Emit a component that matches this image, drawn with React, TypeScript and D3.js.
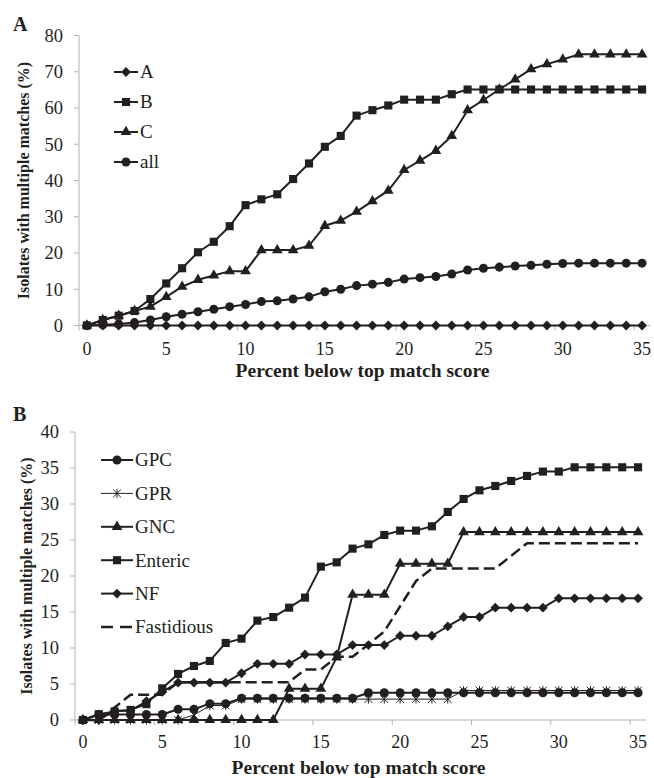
import React from "react";
import * as d3 from "d3";

// x categories: percent below top match score
const categories = [
  0, 1, 2, 3, 4, 5, 6, 7, 8, 9, 10, 11, 12, 13, 14, 15, 16, 17, 18, 19, 20, 21,
  22, 23, 24, 25, 26, 27, 28, 29, 30, 31, 32, 33, 34, 35,
];
const xTickLabels = [0, 5, 10, 15, 20, 25, 30, 35];
const yTicksA = [0, 10, 20, 30, 40, 50, 60, 70, 80];
const yTicksB = [0, 5, 10, 15, 20, 25, 30, 35, 40];

// panel A
const valuesA = [
  0, 0, 0, 0, 0, 0, 0, 0, 0, 0, 0, 0, 0, 0, 0, 0, 0, 0, 0, 0, 0, 0, 0, 0, 0, 0,
  0, 0, 0, 0, 0, 0, 0, 0, 0, 0,
];
const valuesB = [
  0, 1.5, 2.7, 4.0, 7.3, 11.6, 15.8, 20.2, 23.1, 27.4, 33.2, 34.8, 36.2, 40.4,
  44.7, 49.3, 52.3, 57.9, 59.4, 60.7, 62.3, 62.3, 62.3, 63.8, 65.1, 65.1, 65.1,
  65.1, 65.1, 65.1, 65.1, 65.1, 65.1, 65.1, 65.1, 65.1,
];
const valuesC = [
  0, 1.5, 2.7, 4.0, 5.2, 7.9, 10.7, 12.6, 13.8, 15.0, 15.0, 20.8, 20.8, 20.8,
  22.0, 27.5, 28.9, 31.4, 34.3, 37.2, 42.9, 45.5, 48.2, 52.3, 59.4, 62.2, 65.1,
  67.9, 70.7, 72.1, 73.4, 74.8, 74.8, 74.8, 74.8, 74.8,
];
const valuesAll = [
  0, 0.2, 0.4, 0.8, 1.5, 2.4, 3.1, 3.8, 4.5, 5.2, 5.8, 6.6, 6.8, 7.3, 7.9, 9.3,
  10.0, 11.0, 11.4, 11.9, 12.8, 13.2, 13.5, 14.2, 15.3, 15.8, 16.1, 16.4, 16.6,
  16.9, 17.1, 17.2, 17.2, 17.2, 17.2, 17.2,
];

// panel B
const valuesGPC = [
  0, 0.76, 0.76, 0.76, 0.76, 0.76, 1.5, 1.5, 2.27, 2.27, 3.03, 3.03, 3.03, 3.03,
  3.03, 3.03, 3.03, 3.03, 3.79, 3.79, 3.79, 3.79, 3.79, 3.79, 3.79, 3.79, 3.79,
  3.79, 3.79, 3.79, 3.79, 3.79, 3.79, 3.79, 3.79, 3.79,
];
const valuesGPR = [
  0, 0, 0, 0, 0, 0, 0, 0.7, 2.0, 2.0, 2.9, 2.9, 2.9, 2.9, 2.9, 2.9, 2.9, 2.9,
  2.9, 2.9, 2.9, 2.9, 2.9, 2.9, 4.1, 4.1, 4.1, 4.1, 4.1, 4.1, 4.1, 4.1, 4.1, 4.1,
  4.1, 4.1,
];
const valuesGNC = [
  0, 0, 0, 0, 0, 0, 0, 0, 0, 0, 0, 0, 0, 4.35, 4.35, 4.35, 8.7, 17.4, 17.4, 17.4,
  21.7, 21.7, 21.7, 21.7, 26.1, 26.1, 26.1, 26.1, 26.1, 26.1, 26.1, 26.1, 26.1,
  26.1, 26.1, 26.1,
];
const valuesEnteric = [
  0, 0.8, 1.2, 1.4, 2.2, 4.4, 6.4, 7.5, 8.2, 10.7, 11.3, 13.8, 14.3, 15.6, 17.0,
  21.3, 21.9, 23.8, 24.4, 25.7, 26.3, 26.3, 26.9, 28.9, 30.7, 31.9, 32.5, 33.2,
  33.9, 34.5, 34.5, 35.1, 35.1, 35.1, 35.1, 35.1,
];
const valuesNF = [
  0, 0, 1.3, 1.3, 2.6, 3.9, 5.2, 5.2, 5.2, 5.2, 6.5, 7.8, 7.8, 7.8, 9.1, 9.1, 9.1,
  10.4, 10.4, 10.4, 11.7, 11.7, 11.7, 13.0, 14.3, 14.3, 15.6, 15.6, 15.6, 15.6,
  16.9, 16.9, 16.9, 16.9, 16.9, 16.9,
];
const valuesFastidious = [
  0, 0, 1.75, 3.5, 3.5, 3.5, 5.26, 5.26, 5.26, 5.26, 5.26, 5.26, 5.26, 5.26, 7.0,
  7.0, 8.77, 8.77, 10.5, 12.3, 15.8, 19.3, 21.05, 21.05, 21.05, 21.05, 21.05,
  22.8, 24.56, 24.56, 24.56, 24.56, 24.56, 24.56, 24.56, 24.56,
];

const ink = "#231f20";
const axisGray = "#b3b3b3";
const font = "'Liberation Serif', 'Times New Roman', serif";

type Series = {
  name: string;
  values: number[];
  marker: string | null;
  width: number;
  dash?: string;
};

const seriesA: Series[] = [
  { name: "A", values: valuesA, marker: "diamond", width: 2 },
  { name: "B", values: valuesB, marker: "square", width: 2 },
  { name: "C", values: valuesC, marker: "triangle", width: 2 },
  { name: "all", values: valuesAll, marker: "circle", width: 2 },
];

const seriesB: Series[] = [
  { name: "GPC", values: valuesGPC, marker: "circle", width: 2 },
  { name: "GPR", values: valuesGPR, marker: "asterisk", width: 1 },
  { name: "GNC", values: valuesGNC, marker: "triangle", width: 2 },
  { name: "Enteric", values: valuesEnteric, marker: "square", width: 2 },
  { name: "NF", values: valuesNF, marker: "diamond", width: 2 },
  { name: "Fastidious", values: valuesFastidious, marker: null, width: 2.5, dash: "11,5" },
];

const symbolPaths: Record<string, string> = {
  diamond: d3.symbol().type(d3.symbolDiamond2).size(62)() as string,
  square: d3.symbol().type(d3.symbolSquare).size(66)() as string,
  triangle: d3.symbol().type(d3.symbolTriangle).size(50)() as string,
  circle: d3.symbol().type(d3.symbolCircle).size(64)() as string,
  asterisk: d3.symbol().type(d3.symbolTimes).size(40)() as string,
};

function Marker({ shape, x, y }: { shape: string; x: number; y: number }) {
  if (shape === "asterisk") {
    return (
      <g transform={`translate(${x},${y})`} stroke={ink} strokeWidth={1} fill="none">
        <path d={symbolPaths.asterisk} />
        <line x1={0} y1={-4.5} x2={0} y2={4.5} />
      </g>
    );
  }
  return <path d={symbolPaths[shape]} transform={`translate(${x},${y})`} fill={ink} />;
}

type PanelProps = {
  letter: string;
  letterY: number;
  left: number;
  right: number;
  top: number;
  bottom: number;
  yMax: number;
  yTicks: number[];
  series: Series[];
  legendX: number;
  legendY: number;
  legendStep: number;
  legendLine: number;
  yLabelX: number;
  yTitleX: number;
  xLabelY: number;
  xTitleY: number;
};

function Panel(p: PanelProps) {
  const x = d3.scaleBand<number>().domain(categories).range([p.left, p.right]);
  const cx = (c: number) => (x(c) as number) + x.bandwidth() / 2;
  const y = d3.scaleLinear().domain([0, p.yMax]).range([p.bottom, p.top]);
  const line = d3
    .line<number>()
    .x((_, i) => cx(categories[i]))
    .y((v) => y(v));

  return (
    <g fontFamily={font} fill={ink}>
      <text x={13} y={p.letterY} fontSize={20} fontWeight="bold">
        {p.letter}
      </text>

      {/* axes */}
      <line x1={p.left} x2={p.left} y1={p.top} y2={p.bottom} stroke={axisGray} strokeWidth={1} />
      <line x1={p.left} x2={p.right} y1={p.bottom} y2={p.bottom} stroke={axisGray} strokeWidth={1} />
      {p.yTicks.map((t) => (
        <g key={t}>
          <line x1={p.left - 5} x2={p.left} y1={y(t)} y2={y(t)} stroke={axisGray} />
          <text x={p.yLabelX} y={y(t) + 6.3} fontSize={18.5} textAnchor="end">
            {t}
          </text>
        </g>
      ))}
      {xTickLabels.map((t) => (
        <g key={t}>
          <line x1={x(t)} x2={x(t)} y1={p.bottom} y2={p.bottom + 5} stroke={axisGray} />
          <text x={cx(t)} y={p.xLabelY} fontSize={18} textAnchor="middle">
            {t}
          </text>
        </g>
      ))}

      <text
        x={(p.left + p.right) / 2 - 2}
        y={p.xTitleY}
        fontSize={19.5}
        fontWeight="bold"
        textAnchor="middle"
      >
        Percent below top match score
      </text>
      <text
        transform={`translate(${p.yTitleX},${(p.top + p.bottom) / 2}) rotate(-90)`}
        fontSize={16}
        fontWeight="bold"
        textAnchor="middle"
      >
        Isolates with multiple matches (%)
      </text>

      {/* series */}
      {p.series.map((s) => (
        <g key={s.name}>
          <path
            d={line(s.values) as string}
            fill="none"
            stroke={ink}
            strokeWidth={s.width}
            strokeDasharray={s.dash}
            strokeLinejoin="round"
          />
          {s.marker &&
            s.values.map((v, i) => (
              <Marker key={i} shape={s.marker as string} x={cx(categories[i])} y={y(v)} />
            ))}
        </g>
      ))}

      {/* legend */}
      {p.series.map((s, i) => {
        const ly = p.legendY + i * p.legendStep;
        return (
          <g key={s.name}>
            <line
              x1={p.legendX}
              x2={p.legendX + p.legendLine}
              y1={ly}
              y2={ly}
              stroke={ink}
              strokeWidth={s.width}
              strokeDasharray={s.dash ? "12,7" : undefined}
            />
            {s.marker && <Marker shape={s.marker} x={p.legendX + p.legendLine / 2} y={ly} />}
            <text x={p.legendX + p.legendLine + 2} y={ly + 6.3} fontSize={19}>
              {s.name}
            </text>
          </g>
        );
      })}
    </g>
  );
}

export default function App() {
  return (
    <svg
      width={654}
      height={778}
      style={{ position: "absolute", left: 0, top: 0, background: "#fff" }}
    >
      <Panel
        letter="A"
        letterY={31}
        left={79}
        right={650}
        top={35.5}
        bottom={325.5}
        yMax={80}
        yTicks={yTicksA}
        series={seriesA}
        legendX={114}
        legendY={72}
        legendStep={30}
        legendLine={24}
        yLabelX={63}
        yTitleX={29}
        xLabelY={355}
        xTitleY={377}
      />
      <Panel
        letter="B"
        letterY={421}
        left={75}
        right={646}
        top={432}
        bottom={720}
        yMax={40}
        yTicks={yTicksB}
        series={seriesB}
        legendX={101}
        legendY={460}
        legendStep={33.4}
        legendLine={32}
        yLabelX={59}
        yTitleX={32}
        xLabelY={748}
        xTitleY={774}
      />
    </svg>
  );
}
